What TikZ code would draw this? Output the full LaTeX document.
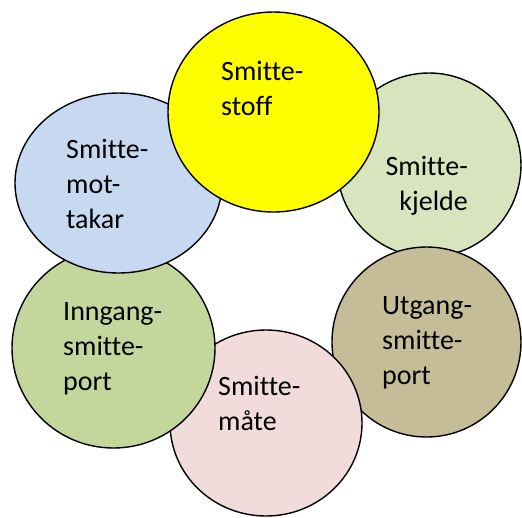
\documentclass[tikz,border=0pt]{standalone}
\usepackage{fontspec}
\setmainfont{Carlito}[Ligatures=NoCommon]
\usetikzlibrary{shapes.geometric}
\tikzset{
  ring/.style={ellipse, draw=black, line width=1.4pt, inner sep=0pt},
  lbl/.style={inner sep=0pt, font=\fontsize{28}{35}\selectfont}
}
\begin{document}
\begin{tikzpicture}[x=1pt,y=-1pt]
\useasboundingbox (0,0) rectangle (522,517);
% circles, drawn from the bottom of the stack upwards
\node[ring, fill={rgb,255:red,215;green,228;blue,189}, minimum width=184pt, minimum height=184pt] (kjelde) at (429,165) {};
\node[ring, fill={rgb,255:red,196;green,189;blue,151}, minimum width=189pt, minimum height=190pt] (utgang) at (426.5,342) {};
\node[ring, fill={rgb,255:red,242;green,220;blue,219}, minimum width=192pt, minimum height=186pt] (maate) at (266,423) {};
\node[ring, fill={rgb,255:red,195;green,214;blue,155}, minimum width=203pt, minimum height=200pt] (inngang) at (113.5,348) {};
\node[ring, fill={rgb,255:red,198;green,217;blue,241}, minimum width=207pt, minimum height=180pt] (mottakar) at (118.5,183) {};
\node[ring, fill={rgb,255:red,255;green,255;blue,0}, minimum width=211pt, minimum height=200pt] (stoff) at (273.5,112) {};
% labels
\node[lbl, anchor=base west] (tstoff) at (221,80) {\begin{tabular}[t]{@{}l@{}}Smitte-\\stoff\end{tabular}};
\node[lbl, anchor=base east] (tkjelde) at (468,175) {\begin{tabular}[t]{@{}r@{}}Smitte-\\kjelde\end{tabular}};
\node[lbl, anchor=base west] (tutgang) at (382,314) {\begin{tabular}[t]{@{}l@{}}Utgang-\\smitte-\\port\end{tabular}};
\node[lbl, anchor=base west] (tmaate) at (218,395) {\begin{tabular}[t]{@{}l@{}}Smitte-\\måte\end{tabular}};
\node[lbl, anchor=base west] (tinngang) at (63,320) {\begin{tabular}[t]{@{}l@{}}Inngang-\\smitte-\\port\end{tabular}};
\node[lbl, anchor=base west] (tmottakar) at (66,158) {\begin{tabular}[t]{@{}l@{}}Smitte-\\mot-\\takar\end{tabular}};
\end{tikzpicture}
\end{document}
